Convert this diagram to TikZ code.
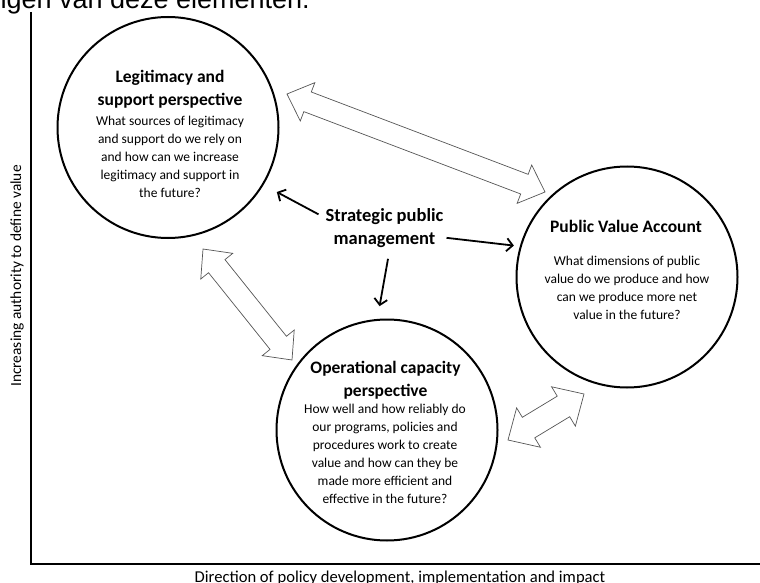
\documentclass[tikz,border=0pt]{standalone}
\usepackage{fontspec}
\setmainfont{Carlito}
\newfontfamily\arialfont{Liberation Sans}
\usetikzlibrary{arrows.meta,calc}
\tikzset{
  circ/.style={circle, draw, line width=2pt, minimum size=221pt, inner sep=0pt},
  ttl/.style={font=\fontsize{17.5}{23}\selectfont\bfseries, align=center, inner sep=0pt, anchor=base},
  bodytxt/.style={font=\fontsize{13.5}{18}\selectfont, align=center, inner sep=0pt, anchor=base},
  blk/.style={line width=1.8pt, -{Straight Barb[length=6pt,width=13pt]}},
  harrow/.style={draw={rgb,255:red,85;green,85;blue,85}, line width=0.7pt, fill=white, line join=miter},
  axisline/.style={line width=1.8pt},
}
% #1,#2 tips; #3 head length; #4 half head width; #5 half shaft width
\newcommand\hollowdbl[5]{%
  \draw[harrow] let \p1=(#1), \p2=(#2), \n1={atan2(\y2-\y1,\x2-\x1)}, \n2={veclen(\x2-\x1,\y2-\y1)} in
    (\p1)
    -- ($(\p1)+(\n1:#3)+(\n1+90:#4)$)
    -- ($(\p1)+(\n1:#3)+(\n1+90:#5)$)
    -- ($(\p1)+(\n1:\n2-#3)+(\n1+90:#5)$)
    -- ($(\p1)+(\n1:\n2-#3)+(\n1+90:#4)$)
    -- (\p2)
    -- ($(\p1)+(\n1:\n2-#3)+(\n1-90:#4)$)
    -- ($(\p1)+(\n1:\n2-#3)+(\n1-90:#5)$)
    -- ($(\p1)+(\n1:#3)+(\n1-90:#5)$)
    -- ($(\p1)+(\n1:#3)+(\n1-90:#4)$)
    -- cycle;%
}
\begin{document}
\begin{tikzpicture}[x=1pt,y=-1pt]
\useasboundingbox (0,0) rectangle (760,583);
\fill[white] (0,0) rectangle (760,583);

% clipped heading from the surrounding text
\node[font=\arialfont\fontsize{27}{32}\selectfont, anchor=base east, inner sep=0pt] (head) at (310,9) {ngen van deze elementen.};

% axes
\draw[axisline] (31,12) -- (31,564) -- (760,564);
\node[rotate=90, font=\fontsize{15.4}{18}\selectfont, inner sep=0pt] (ylab) at (17,276) {Increasing authority to define value};
\node[font=\fontsize{16.6}{20}\selectfont, anchor=base, inner sep=0pt] (xlab) at (400,582) {Direction of policy development, implementation and impact};

% circles
\node[circ] (leg) at (168,127.5) {};
\node[circ] (pv) at (627,277) {};
\node[circ] (op) at (387,430) {};

% texts (anchor = baseline of the last line)
\node[ttl] (legT) at (170,106) {Legitimacy and\\support perspective};
\node[bodytxt] (legB) at (170,197) {What sources of legitimacy\\and support do we rely on\\and how can we increase\\legitimacy and support in\\the future?};

\node[ttl] (pvT) at (626,232) {Public Value Account};
\node[bodytxt] (pvB) at (627,319) {What dimensions of public\\value do we produce and how\\can we produce more net\\value in the future?};

\node[ttl] (opT) at (385.5,396) {Operational capacity\\perspective};
\node[bodytxt] (opB) at (385,503) {How well and how reliably do\\our programs, policies and\\procedures work to create\\value and how can they be\\made more efficient and\\effective in the future?};

\node[ttl, font=\fontsize{18.5}{23}\selectfont\bfseries] (strat) at (384.5,244) {Strategic public\\management};

% black arrows
\draw[blk, shorten >=15pt] ([shift={(-7,6.5)}]strat.north west) -- (leg.-31);
\draw[blk, shorten >=6pt] ([shift={(3,-9.5)}]strat.south east) -- (pv.164);
\draw[blk, shorten >=13pt] ([shift={(3.5,11.5)}]strat.south) -- (op.95);

% hollow double arrows
\coordinate (aL) at (287,94);
\coordinate (aR) at (545,192);
\coordinate (bU) at (203,249);
\coordinate (bD) at (292,360);
\coordinate (cL) at (508,440);
\coordinate (cR) at (584,394);
\hollowdbl{aL}{aR}{22pt}{20.5pt}{10.5pt}
\hollowdbl{bU}{bD}{22pt}{20.5pt}{10.5pt}
\hollowdbl{cL}{cR}{24pt}{23pt}{12pt}
\end{tikzpicture}
\end{document}
